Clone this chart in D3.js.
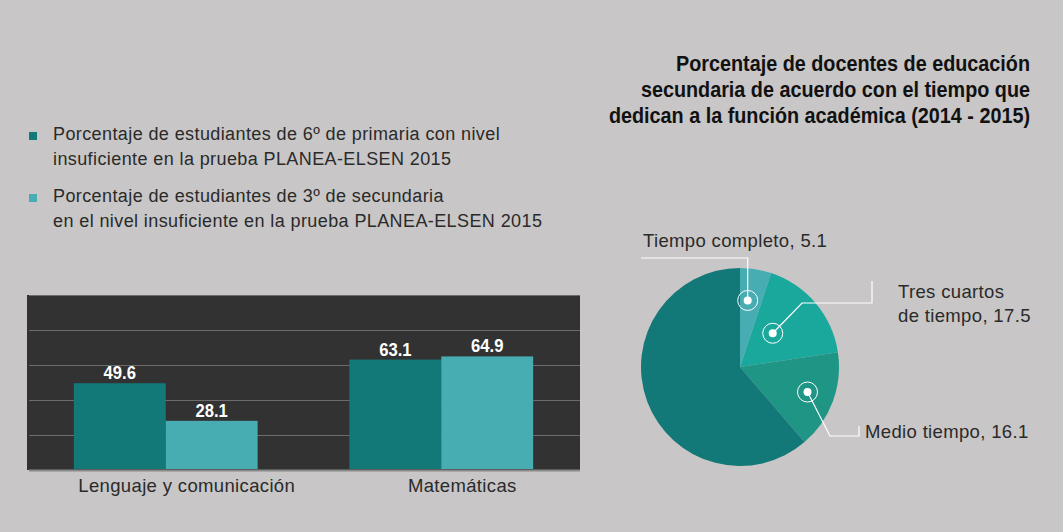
<!DOCTYPE html>
<html>
<head>
<meta charset="utf-8">
<script src="https://cdn.jsdelivr.net/npm/d3@7/dist/d3.min.js"></script>
<style>
    body { margin: 0; background: #c8c6c6; }
    svg { display: block; }
    .light-text { font-family: "Liberation Sans", Arial, sans-serif; fill: #2a2a2a; letter-spacing: 0.35px; }
    .bold-text { font-family: "Liberation Sans", Arial, sans-serif; font-weight: bold; }
</style>
</head>
<body>
<svg id="chart" width="1063" height="532"></svg>
<script>

// ---- data ----
const categories = ["Lenguaje y comunicación", "Matemáticas"];
const seriesNames = [
    ["Porcentaje de estudiantes de 6º de primaria con nivel", "insuficiente en la prueba PLANEA-ELSEN 2015"],
    ["Porcentaje de estudiantes de 3º de secundaria", "en el nivel insuficiente en la prueba PLANEA-ELSEN 2015"]
];
const primaria = [49.6, 63.1];
const secundaria = [28.1, 64.9];
const gridTicks = [0, 20, 40, 60, 80, 100];

const pieTitle = [
    "Porcentaje de docentes de educación",
    "secundaria de acuerdo con el tiempo que",
    "dedican a la función académica (2014 - 2015)"
];
const pieLabels = [["Tiempo completo, 5.1"], ["Tres cuartos", "de tiempo, 17.5"], ["Medio tiempo, 16.1"], []];
const pieValues = [5.1, 17.5, 16.1, 61.3];

const seriesColors = ["#137878", "#48adb3"];
const pieColors = ["#48adb3", "#1ba89c", "#1f9585", "#137878"];

// no condensed bold font is installed, so squeeze the bold one horizontally
const condense = 0.9;

const svg = d3.select("#chart");

// ---- bar chart ----
class BarChart {

    constructor(svg) {
        this.svg = svg;
        this.initVis();
    }

    initVis() {
        let vis = this;

        vis.left = 27; vis.right = 580;
        vis.top = 295; vis.bottom = 470;

        vis.g = vis.svg.append("g");

        // dark panel
        vis.g.append("rect")
            .attr("x", vis.left).attr("y", vis.top)
            .attr("width", vis.right - vis.left)
            .attr("height", vis.bottom - vis.top)
            .attr("fill", "#323232");

        vis.x0 = d3.scaleBand()
            .domain(categories)
            .range([vis.left, vis.right])
            .paddingInner(0.333)
            .paddingOuter(0.17);

        vis.x1 = d3.scaleBand()
            .domain([0, 1])
            .range([0, vis.x0.bandwidth()]);

        vis.y = d3.scaleLinear()
            .domain([0, 100])
            .range([vis.bottom, vis.top]);

        // gridlines
        let grid = vis.g.append("g")
            .attr("transform", `translate(${vis.left + 2},0)`)
            .call(d3.axisRight(vis.y).tickValues(gridTicks).tickSize(vis.right - vis.left - 2).tickFormat(""));
        grid.select(".domain").remove();
        grid.selectAll(".tick line")
            .attr("stroke", d => d === 0 ? "#8a8a8a" : "#6c6c6c")
            .attr("stroke-width", d => d === 0 ? 2 : 1.2);

        vis.updateVis();
    }

    updateVis() {
        let vis = this;

        let rows = categories.map((c, i) => ({ cat: c, values: [primaria[i], secundaria[i]] }));

        let groups = vis.g.selectAll(".group")
            .data(rows)
            .join("g")
            .attr("class", "group")
            .attr("transform", d => `translate(${vis.x0(d.cat)},0)`);

        groups.selectAll("rect")
            .data(d => d.values.map((v, j) => ({ v: v, j: j })))
            .join("rect")
            .attr("x", d => vis.x1(d.j))
            .attr("width", vis.x1.bandwidth())
            .attr("y", d => vis.y(d.v))
            .attr("height", d => vis.bottom - 1 - vis.y(d.v))
            .attr("fill", d => seriesColors[d.j]);

        groups.selectAll(".value")
            .data(d => d.values.map((v, j) => ({ v: v, j: j })))
            .join("text")
            .attr("class", "value bold-text")
            .attr("transform", `scale(${condense},1)`)
            .attr("x", d => (vis.x1(d.j) + vis.x1.bandwidth() / 2) / condense)
            .attr("y", d => vis.y(d.v) - 4)
            .attr("text-anchor", "middle")
            .attr("fill", "#ffffff")
            .style("font-size", "18.5px")
            .text(d => d.v.toFixed(1));

        // category labels, sitting a bit right of the group centre like the original
        vis.g.selectAll(".cat-label")
            .data(categories)
            .join("text")
            .attr("class", "cat-label light-text")
            .attr("x", d => vis.x0(d) + vis.x0.bandwidth() / 2 + 21)
            .attr("y", vis.bottom + 22)
            .attr("text-anchor", "middle")
            .style("font-size", "18.5px")
            .text(d => d);
    }
}

// ---- legend ----
let legend = svg.append("g");
seriesNames.forEach((lines, i) => {
    let top = 132 + i * 62;
    legend.append("rect")
        .attr("x", 29).attr("y", top)
        .attr("width", 8).attr("height", 8)
        .attr("fill", seriesColors[i]);
    legend.append("text")
        .attr("class", "light-text")
        .attr("x", 53).attr("y", top + 8)
        .style("font-size", "18px")
        .style("letter-spacing", "0.4px")
        .selectAll("tspan")
        .data(lines)
        .join("tspan")
        .attr("x", 53)
        .attr("dy", (d, k) => k === 0 ? 0 : 25)
        .text(d => d);
});

// ---- pie chart ----
class PieChart {

    constructor(svg) {
        this.svg = svg;
        this.initVis();
    }

    initVis() {
        let vis = this;

        vis.cx = 740; vis.cy = 367; vis.r = 99;

        // title, right aligned
        vis.svg.append("text")
            .attr("class", "bold-text")
            .attr("transform", `scale(${condense},1)`)
            .attr("text-anchor", "end")
            .attr("fill", "#111")
            .style("font-size", "22px")
            .selectAll("tspan")
            .data(pieTitle)
            .join("tspan")
            .attr("x", 1030 / condense)
            .attr("y", (d, i) => 71 + i * 26)
            .text(d => d);

        vis.g = vis.svg.append("g")
            .attr("transform", `translate(${vis.cx},${vis.cy})`);

        vis.pie = d3.pie().sort(null).value(d => d);
        vis.arc = d3.arc().innerRadius(0).outerRadius(vis.r);

        vis.updateVis();
    }

    updateVis() {
        let vis = this;

        let arcs = vis.pie(pieValues);

        vis.g.selectAll(".slice")
            .data(arcs)
            .join("path")
            .attr("class", "slice")
            .attr("d", vis.arc)
            .attr("fill", (d, i) => pieColors[i]);

        // marker distance from centre and leader routes (relative to pie centre)
        let markerDist = [67, 47, 72];
        let mid = d => (d.startAngle + d.endAngle) / 2;
        let markerPos = arcs.slice(0, 3).map((d, i) => {
            let a = i === 0 ? mid(d) - 0.045 : mid(d) - (i === 1 ? 0.1 : 0);
            return [markerDist[i] * Math.sin(a), -markerDist[i] * Math.cos(a)];
        });

        let routes = [
            p => [p, [p[0], -109], [-vis.r, -109]],
            p => [p, [62, -64], [132, -64], [132, -86]],
            p => [p, [90, 69], [119, 69], [119, 59]]
        ];
        let labelPos = [[-vis.r + 2, -120], [158, -69], [125, 71]];

        markerPos.forEach((p, i) => {
            vis.g.append("path")
                .attr("d", d3.line()(routes[i](p)))
                .attr("fill", "none")
                .attr("stroke", "#ffffff")
                .attr("stroke-width", 1.2);
            vis.g.append("circle")
                .attr("cx", p[0]).attr("cy", p[1]).attr("r", 10)
                .attr("fill", "none")
                .attr("stroke", "#ffffff")
                .attr("stroke-width", 1);
            vis.g.append("circle")
                .attr("cx", p[0]).attr("cy", p[1]).attr("r", 4)
                .attr("fill", "#ffffff");

            vis.g.append("text")
                .attr("class", "light-text")
                .style("font-size", "18.5px")
                .selectAll("tspan")
                .data(pieLabels[i])
                .join("tspan")
                .attr("x", labelPos[i][0])
                .attr("y", (d, k) => labelPos[i][1] + k * 24)
                .text(d => d);
        });
    }
}

new BarChart(svg);
new PieChart(svg);

</script>
</body>
</html>
